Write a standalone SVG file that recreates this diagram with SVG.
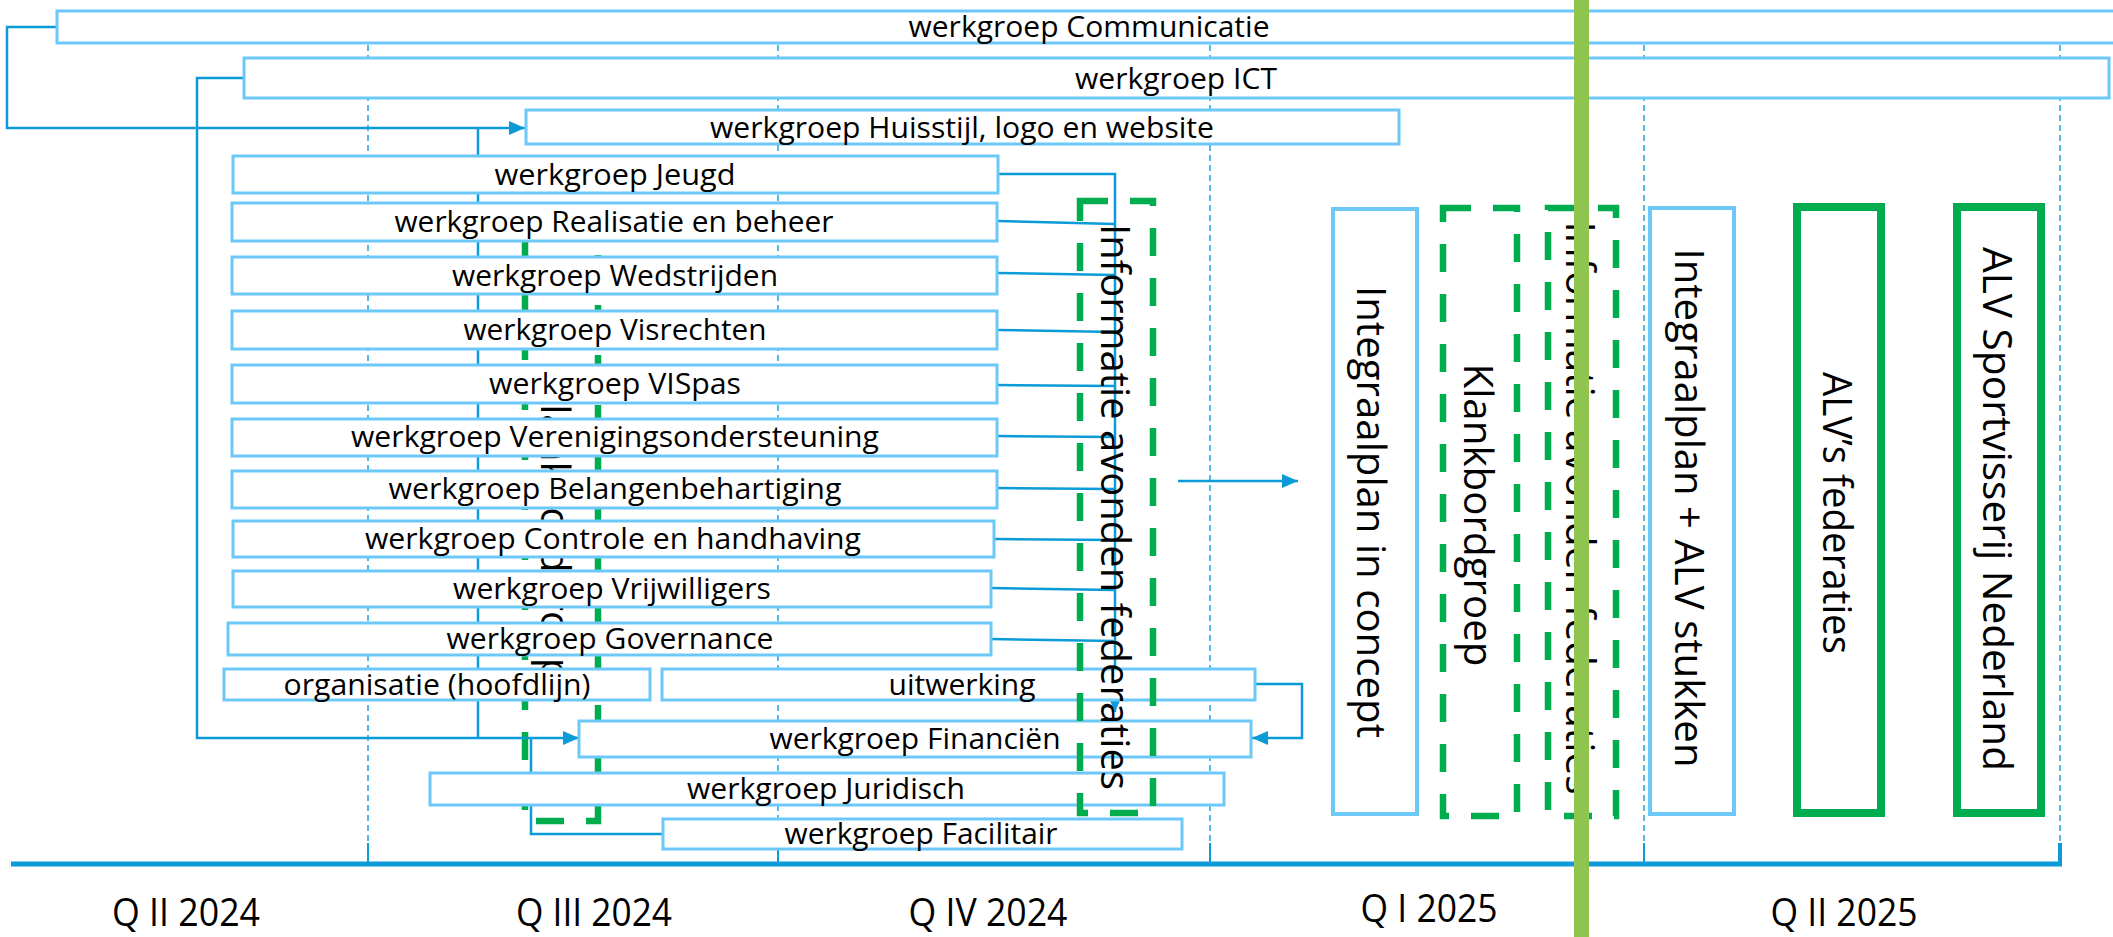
<svg xmlns="http://www.w3.org/2000/svg" width="2113" height="937" viewBox="0 0 2113 937">
<style>
.bg{fill:#ffffff}
.q{stroke:#2EA8E0;stroke-width:1.6;stroke-dasharray:6 4;fill:none}
.tick{stroke:#0A9BD8;stroke-width:2;fill:none}
.axis{stroke:#0A9BD8;stroke-width:5;fill:none}
.con{stroke:#0A9BD8;stroke-width:2.5;fill:none}
.box{fill:#ffffff;stroke:#6CC8F7;stroke-width:3}
.box2{fill:#ffffff;stroke:#6CC8F7;stroke-width:4}
.gd{fill:none;stroke:#00AD4E;stroke-width:6.5;stroke-dasharray:28 22}
.gs{fill:#ffffff;stroke:#00AD4E;stroke-width:8}
.t{font-family:"Open Sans","Noto Sans","Liberation Sans",sans-serif;font-size:29px;fill:#000;text-anchor:middle}
.tq{font-family:"Open Sans","Noto Sans","Liberation Sans",sans-serif;font-size:39px;fill:#000;text-anchor:middle}
.tv{font-family:"Open Sans","Noto Sans","Liberation Sans",sans-serif;font-size:41px;fill:#000;text-anchor:middle}
</style>
<defs>
<marker id="ah" markerUnits="userSpaceOnUse" markerWidth="16" markerHeight="14" refX="16" refY="7" orient="auto">
<path d="M0,0 L16,7 L0,14 Z" fill="#0A9BD8"/>
</marker>
</defs>
<rect class="bg" x="0" y="0" width="2113" height="937"/>

<g id="timeline">
<line class="q" x1="368" y1="45" x2="368" y2="843"/>
<line class="q" x1="778" y1="45" x2="778" y2="843"/>
<line class="q" x1="1210" y1="45" x2="1210" y2="843"/>
<line class="q" x1="1644" y1="45" x2="1644" y2="843"/>
<line class="q" x1="2060" y1="45" x2="2060" y2="843"/>
<line class="tick" x1="368" y1="843" x2="368" y2="864"/>
<line class="tick" x1="778" y1="843" x2="778" y2="864"/>
<line class="tick" x1="1210" y1="843" x2="1210" y2="864"/>
<line class="tick" x1="1644" y1="843" x2="1644" y2="864"/>
<line class="tick" x1="2060" y1="843" x2="2060" y2="866" style="stroke-width:4"/>
<line class="axis" x1="11" y1="864" x2="2062" y2="864"/>
<text class="tq" x="186" y="926" textLength="148" lengthAdjust="spacingAndGlyphs">Q II 2024</text>
<text class="tq" x="594" y="926" textLength="156" lengthAdjust="spacingAndGlyphs">Q III 2024</text>
<text class="tq" x="988" y="926" textLength="159" lengthAdjust="spacingAndGlyphs">Q IV 2024</text>
<text class="tq" x="1429" y="922" textLength="137" lengthAdjust="spacingAndGlyphs">Q I 2025</text>
<text class="tq" x="1844" y="926" textLength="147" lengthAdjust="spacingAndGlyphs">Q II 2025</text>
</g>

<g id="klankbordgroep-verborgen">
<rect class="gd" x="525" y="228" width="73" height="593"/>
<text class="tv" transform="translate(541,531) rotate(90)" textLength="303" lengthAdjust="spacingAndGlyphs">Klankbordgroep</text>
</g>

<g id="connectors">
<path class="con" d="M57,27 H7 V128 H525" marker-end="url(#ah)"/>
<path class="con" d="M244,78 H197 V738 H579" marker-end="url(#ah)"/>
<path class="con" d="M478,128 V738"/>
<path class="con" d="M531,738 V834 H663"/>
<path class="con" d="M1255,684 H1302 V738 H1252" marker-end="url(#ah)"/>
<path class="con" d="M998,174 H1115 V712" marker-end="url(#ah)"/>
<path class="con" d="M997,221 L1115,224"/>
<path class="con" d="M997,273 L1115,275"/>
<path class="con" d="M997,330 L1115,332"/>
<path class="con" d="M997,385 L1115,386"/>
<path class="con" d="M997,436 L1115,437"/>
<path class="con" d="M997,488 L1115,489"/>
<path class="con" d="M994,539 L1115,540"/>
<path class="con" d="M991,588 L1115,590"/>
<path class="con" d="M991,639 L1115,641"/>
<path class="con" d="M1178,481 H1298" marker-end="url(#ah)"/>
</g>

<g id="communicatie"><rect class="box" x="57" y="11" width="2063" height="32"/><text class="t" x="1089" y="37" textLength="361" lengthAdjust="spacingAndGlyphs">werkgroep Communicatie</text></g>
<g id="ict"><rect class="box" x="244" y="58" width="1865" height="40"/><text class="t" x="1176" y="89" textLength="202" lengthAdjust="spacingAndGlyphs">werkgroep ICT</text></g>
<g id="huisstijl"><rect class="box" x="526" y="110" width="873" height="34"/><text class="t" x="962" y="138" textLength="504" lengthAdjust="spacingAndGlyphs">werkgroep Huisstijl, logo en website</text></g>
<g id="jeugd"><rect class="box" x="233" y="156" width="765" height="37"/><text class="t" x="615" y="185" textLength="241" lengthAdjust="spacingAndGlyphs">werkgroep Jeugd</text></g>
<g id="realisatie"><rect class="box" x="232" y="203" width="765" height="38"/><text class="t" x="614" y="232" textLength="439" lengthAdjust="spacingAndGlyphs">werkgroep Realisatie en beheer</text></g>
<g id="wedstrijden"><rect class="box" x="232" y="257" width="765" height="37"/><text class="t" x="615" y="286" textLength="326" lengthAdjust="spacingAndGlyphs">werkgroep Wedstrijden</text></g>
<g id="visrechten"><rect class="box" x="232" y="311" width="765" height="38"/><text class="t" x="615" y="340" textLength="303" lengthAdjust="spacingAndGlyphs">werkgroep Visrechten</text></g>
<g id="vispas"><rect class="box" x="232" y="365" width="765" height="38"/><text class="t" x="615" y="394" textLength="252" lengthAdjust="spacingAndGlyphs">werkgroep VISpas</text></g>
<g id="verenigingsondersteuning"><rect class="box" x="232" y="419" width="765" height="37"/><text class="t" x="615" y="447" textLength="528" lengthAdjust="spacingAndGlyphs">werkgroep Verenigingsondersteuning</text></g>
<g id="belangenbehartiging"><rect class="box" x="232" y="471" width="765" height="37"/><text class="t" x="615" y="499" textLength="453" lengthAdjust="spacingAndGlyphs">werkgroep Belangenbehartiging</text></g>
<g id="controle"><rect class="box" x="233" y="521" width="761" height="36"/><text class="t" x="613" y="549" textLength="496" lengthAdjust="spacingAndGlyphs">werkgroep Controle en handhaving</text></g>
<g id="vrijwilligers"><rect class="box" x="233" y="571" width="758" height="36"/><text class="t" x="612" y="599" textLength="318" lengthAdjust="spacingAndGlyphs">werkgroep Vrijwilligers</text></g>
<g id="governance"><rect class="box" x="228" y="623" width="763" height="32"/><text class="t" x="610" y="649" textLength="327" lengthAdjust="spacingAndGlyphs">werkgroep Governance</text></g>
<g id="organisatie"><rect class="box" x="224" y="669" width="426" height="31"/><text class="t" x="437" y="695" textLength="307" lengthAdjust="spacingAndGlyphs">organisatie (hoofdlijn)</text></g>
<g id="uitwerking"><rect class="box" x="662" y="669" width="593" height="31"/><text class="t" x="962" y="695" textLength="147" lengthAdjust="spacingAndGlyphs">uitwerking</text></g>
<g id="financien"><rect class="box" x="579" y="721" width="672" height="36"/><text class="t" x="915" y="749" textLength="291" lengthAdjust="spacingAndGlyphs">werkgroep Financiën</text></g>
<g id="juridisch"><rect class="box" x="430" y="773" width="794" height="32"/><text class="t" x="826" y="799" textLength="278" lengthAdjust="spacingAndGlyphs">werkgroep Juridisch</text></g>
<g id="facilitair"><rect class="box" x="663" y="819" width="519" height="30"/><text class="t" x="921" y="844" textLength="273" lengthAdjust="spacingAndGlyphs">werkgroep Facilitair</text></g>

<g id="informatie-1">
<rect class="gd" x="1080" y="201" width="73" height="612"/>
<text class="tv" transform="translate(1101,507) rotate(90)" textLength="566" lengthAdjust="spacingAndGlyphs">Informatie avonden federaties</text>
</g>
<g id="integraalplan-concept">
<rect class="box2" x="1333" y="209" width="84" height="605"/>
<text class="tv" transform="translate(1357,512) rotate(90)" textLength="452" lengthAdjust="spacingAndGlyphs">Integraalplan in concept</text>
</g>
<g id="klankbordgroep">
<rect class="gd" x="1443" y="208" width="74" height="608"/>
<text class="tv" transform="translate(1464,515) rotate(90)" textLength="303" lengthAdjust="spacingAndGlyphs">Klankbordgroep</text>
</g>
<g id="informatie-2">
<rect class="gd" x="1548" y="208" width="68" height="608"/>
<text class="tv" transform="translate(1566,508) rotate(90)" textLength="573" lengthAdjust="spacingAndGlyphs">Informatie avonden federaties</text>
</g>
<g id="integraalplan-alv">
<rect class="box2" x="1650" y="208" width="84" height="606"/>
<text class="tv" transform="translate(1675,508) rotate(90)" textLength="519" lengthAdjust="spacingAndGlyphs">Integraalplan + ALV stukken</text>
</g>
<g id="alv-federaties">
<rect class="gs" x="1797" y="207" width="84" height="606"/>
<text class="tv" transform="translate(1823,513) rotate(90)" textLength="282" lengthAdjust="spacingAndGlyphs">ALV’s federaties</text>
</g>
<g id="alv-sportvisserij">
<rect class="gs" x="1957" y="207" width="84" height="606"/>
<text class="tv" transform="translate(1983,509) rotate(90)" textLength="524" lengthAdjust="spacingAndGlyphs">ALV Sportvisserij Nederland</text>
</g>

<g id="vandaag">
<rect x="1574" y="0" width="15" height="937" fill="#8FC54F"/>
</g>
</svg>
